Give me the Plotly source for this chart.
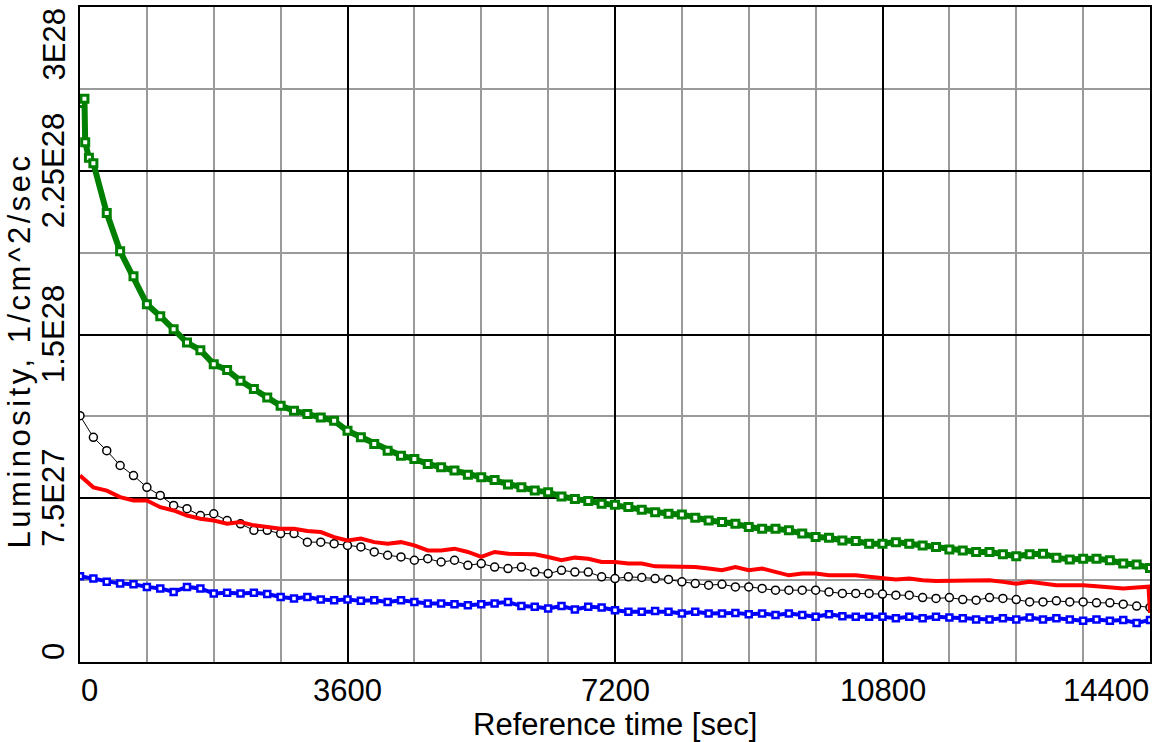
import plotly.graph_objects as go

# Reference time [sec]
time_s = [0, 180, 360, 540, 720, 900, 1080, 1260, 1440, 1620, 1800, 1980, 2160, 2340, 2520,
          2700, 2880, 3060, 3240, 3420, 3600, 3780, 3960, 4140, 4320, 4500, 4680, 4860, 5040,
          5220, 5400, 5580, 5760, 5940, 6120, 6300, 6480, 6660, 6840, 7020, 7200, 7380, 7560,
          7740, 7920, 8100, 8280, 8460, 8640, 8820, 9000, 9180, 9360, 9540, 9720, 9900, 10080,
          10260, 10440, 10620, 10800, 10980, 11160, 11340, 11520, 11700, 11880, 12060, 12240,
          12420, 12600, 12780, 12960, 13140, 13320, 13500, 13680, 13860, 14040, 14220, 14400]

# Luminosity values in units of 1E28 1/cm^2/sec
green_time = [0, 60, 70, 120] + time_s[1:]
green_lum = [2.56, 2.58, 2.38, 2.31,
             2.284, 2.056, 1.881, 1.767, 1.639, 1.584, 1.524, 1.463, 1.428, 1.364, 1.337,
             1.288, 1.250, 1.211, 1.174, 1.151, 1.136, 1.120, 1.105, 1.059, 1.029, 0.999,
             0.968, 0.945, 0.930, 0.907, 0.892, 0.877, 0.858, 0.846, 0.834, 0.813, 0.800,
             0.785, 0.778, 0.758, 0.747, 0.737, 0.725, 0.720, 0.710, 0.697, 0.686, 0.679,
             0.676, 0.661, 0.648, 0.641, 0.633, 0.618, 0.610, 0.610, 0.603, 0.588, 0.572,
             0.569, 0.557, 0.554, 0.542, 0.542, 0.549, 0.542, 0.534, 0.527, 0.515, 0.511,
             0.504, 0.504, 0.493, 0.484, 0.493, 0.496, 0.478, 0.469, 0.473, 0.473, 0.466,
             0.451, 0.447, 0.430]

red_time = time_s[:-1] + [14380, 14400]
red_lum = [0.854, 0.800, 0.785, 0.755, 0.740, 0.740, 0.709, 0.694, 0.671, 0.656, 0.648,
           0.633, 0.641, 0.626, 0.618, 0.610, 0.610, 0.600, 0.595, 0.572, 0.557, 0.565,
           0.549, 0.542, 0.549, 0.534, 0.511, 0.511, 0.519, 0.504, 0.481, 0.504, 0.496,
           0.496, 0.493, 0.481, 0.466, 0.478, 0.473, 0.458, 0.458, 0.451, 0.451, 0.438,
           0.438, 0.438, 0.435, 0.428, 0.420, 0.435, 0.420, 0.428, 0.412, 0.397, 0.405,
           0.405, 0.397, 0.397, 0.397, 0.390, 0.385, 0.378, 0.382, 0.374, 0.371, 0.371,
           0.371, 0.374, 0.374, 0.367, 0.359, 0.367, 0.359, 0.352, 0.352, 0.352, 0.347,
           0.341, 0.337, 0.341, 0.345, 0.225]

black_lum = [1.128, 1.029, 0.968, 0.900, 0.854, 0.800, 0.763, 0.717, 0.702, 0.671, 0.679,
             0.648, 0.633, 0.603, 0.603, 0.588, 0.588, 0.549, 0.549, 0.542, 0.534, 0.527,
             0.504, 0.489, 0.481, 0.466, 0.473, 0.458, 0.466, 0.443, 0.451, 0.435, 0.428,
             0.435, 0.412, 0.405, 0.420, 0.412, 0.412, 0.390, 0.382, 0.390, 0.387, 0.382,
             0.378, 0.367, 0.359, 0.352, 0.356, 0.344, 0.344, 0.337, 0.329, 0.329, 0.329,
             0.329, 0.321, 0.314, 0.314, 0.314, 0.311, 0.306, 0.306, 0.295, 0.291, 0.295,
             0.286, 0.283, 0.295, 0.291, 0.286, 0.275, 0.275, 0.280, 0.275, 0.275, 0.271,
             0.271, 0.265, 0.256, 0.250]

blue_lum = [0.393, 0.382, 0.367, 0.359, 0.356, 0.344, 0.337, 0.321, 0.344, 0.337, 0.314,
            0.317, 0.314, 0.317, 0.311, 0.298, 0.291, 0.298, 0.286, 0.283, 0.286, 0.280,
            0.283, 0.275, 0.283, 0.275, 0.268, 0.268, 0.265, 0.260, 0.265, 0.268, 0.275,
            0.256, 0.253, 0.245, 0.256, 0.241, 0.253, 0.250, 0.237, 0.230, 0.230, 0.234,
            0.230, 0.222, 0.230, 0.222, 0.222, 0.225, 0.219, 0.222, 0.215, 0.222, 0.215,
            0.207, 0.219, 0.210, 0.207, 0.207, 0.207, 0.200, 0.207, 0.200, 0.207, 0.204,
            0.200, 0.195, 0.195, 0.200, 0.195, 0.204, 0.195, 0.200, 0.195, 0.189, 0.195,
            0.189, 0.192, 0.179, 0.192]

SCALE = 1e28
x_ticks = [0, 3600, 7200, 10800, 14400]
x_tick_text = ["0", "3600", "7200", "10800", "14400"]
y_ticks = [0, 7.5e27, 1.5e28, 2.25e28, 3e28]
y_tick_text = ["0", "7.5E27", "1.5E28", "2.25E28", "3E28"]

FONT = "Liberation Sans, Arial, sans-serif"
FS = 31

fig = go.Figure()

fig.add_trace(go.Scatter(
    x=time_s, y=[v * SCALE for v in blue_lum], mode="lines+markers",
    line=dict(color="#0000ff", width=4),
    marker=dict(symbol="square", size=6, color="#ffffff", line=dict(color="#0000ff", width=2.5)),
    showlegend=False))

fig.add_trace(go.Scatter(
    x=time_s, y=[v * SCALE for v in black_lum], mode="lines+markers",
    line=dict(color="#000000", width=1),
    marker=dict(symbol="circle", size=8, color="#ffffff", line=dict(color="#000000", width=1.5)),
    showlegend=False))

fig.add_trace(go.Scatter(
    x=red_time, y=[v * SCALE for v in red_lum], mode="lines",
    line=dict(color="#ff0000", width=4),
    showlegend=False))

fig.add_trace(go.Scatter(
    x=green_time, y=[v * SCALE for v in green_lum], mode="lines+markers",
    line=dict(color="#008000", width=6),
    marker=dict(symbol="square", size=7, color="#ffffff", line=dict(color="#008000", width=3)),
    showlegend=False))

fig.update_xaxes(
    range=[0, 14400], tickvals=x_ticks, showticklabels=False, ticks="",
    showgrid=True, gridcolor="#000000", gridwidth=1.5,
    minor=dict(dtick=900, tick0=0, showgrid=True, gridcolor="#9a9a9a", gridwidth=1.5),
    showline=True, linecolor="#000000", linewidth=2, mirror=True, zeroline=False)
fig.update_yaxes(
    range=[0, 3e28], tickvals=y_ticks, showticklabels=False, ticks="",
    showgrid=True, gridcolor="#000000", gridwidth=1.5,
    minor=dict(dtick=3.75e27, tick0=0, showgrid=True, gridcolor="#9a9a9a", gridwidth=1.5),
    showline=True, linecolor="#000000", linewidth=2, mirror=True, zeroline=False)

annotations = []
x_anchors = ["left", "center", "center", "center", "right"]
for v, t, a in zip(x_ticks, x_tick_text, x_anchors):
    annotations.append(dict(x=v, y=0, xref="x", yref="paper", text=t, showarrow=False,
                            xanchor=a, yanchor="top", yshift=-10, borderpad=0,
                            font=dict(family=FONT, size=FS, color="#000000")))
y_anchors = ["bottom", "middle", "middle", "middle", "top"]
for v, t, a in zip(y_ticks, y_tick_text, y_anchors):
    annotations.append(dict(x=0, y=v, xref="paper", yref="y", text=t, showarrow=False,
                            xanchor="right", yanchor=a, xshift=-7, textangle=-90,
                            font=dict(family=FONT, size=FS, color="#000000")))
annotations.append(dict(x=0.5, y=0, xref="paper", yref="paper", text="Reference time [sec]",
                        showarrow=False, xanchor="center", yanchor="top", yshift=-44,
                        borderpad=0,
                        font=dict(family=FONT, size=FS, color="#000000")))
annotations.append(dict(x=0, y=0.475, xref="paper", yref="paper",
                        text='<span style="letter-spacing:3.5px">Luminosity, 1/cm^2/sec</span>',
                        showarrow=False, xanchor="right", yanchor="middle", xshift=-41,
                        textangle=-90, font=dict(family=FONT, size=FS, color="#000000")))

fig.update_layout(
    width=1157, height=742,
    margin=dict(l=80, r=5, t=5, b=80),
    paper_bgcolor="#ffffff", plot_bgcolor="#ffffff",
    annotations=annotations,
    showlegend=False)

fig.write_html("out.html", config={"displayModeBar": False},
               post_script="document.body.style.margin='0';document.body.style.overflow='hidden';")
